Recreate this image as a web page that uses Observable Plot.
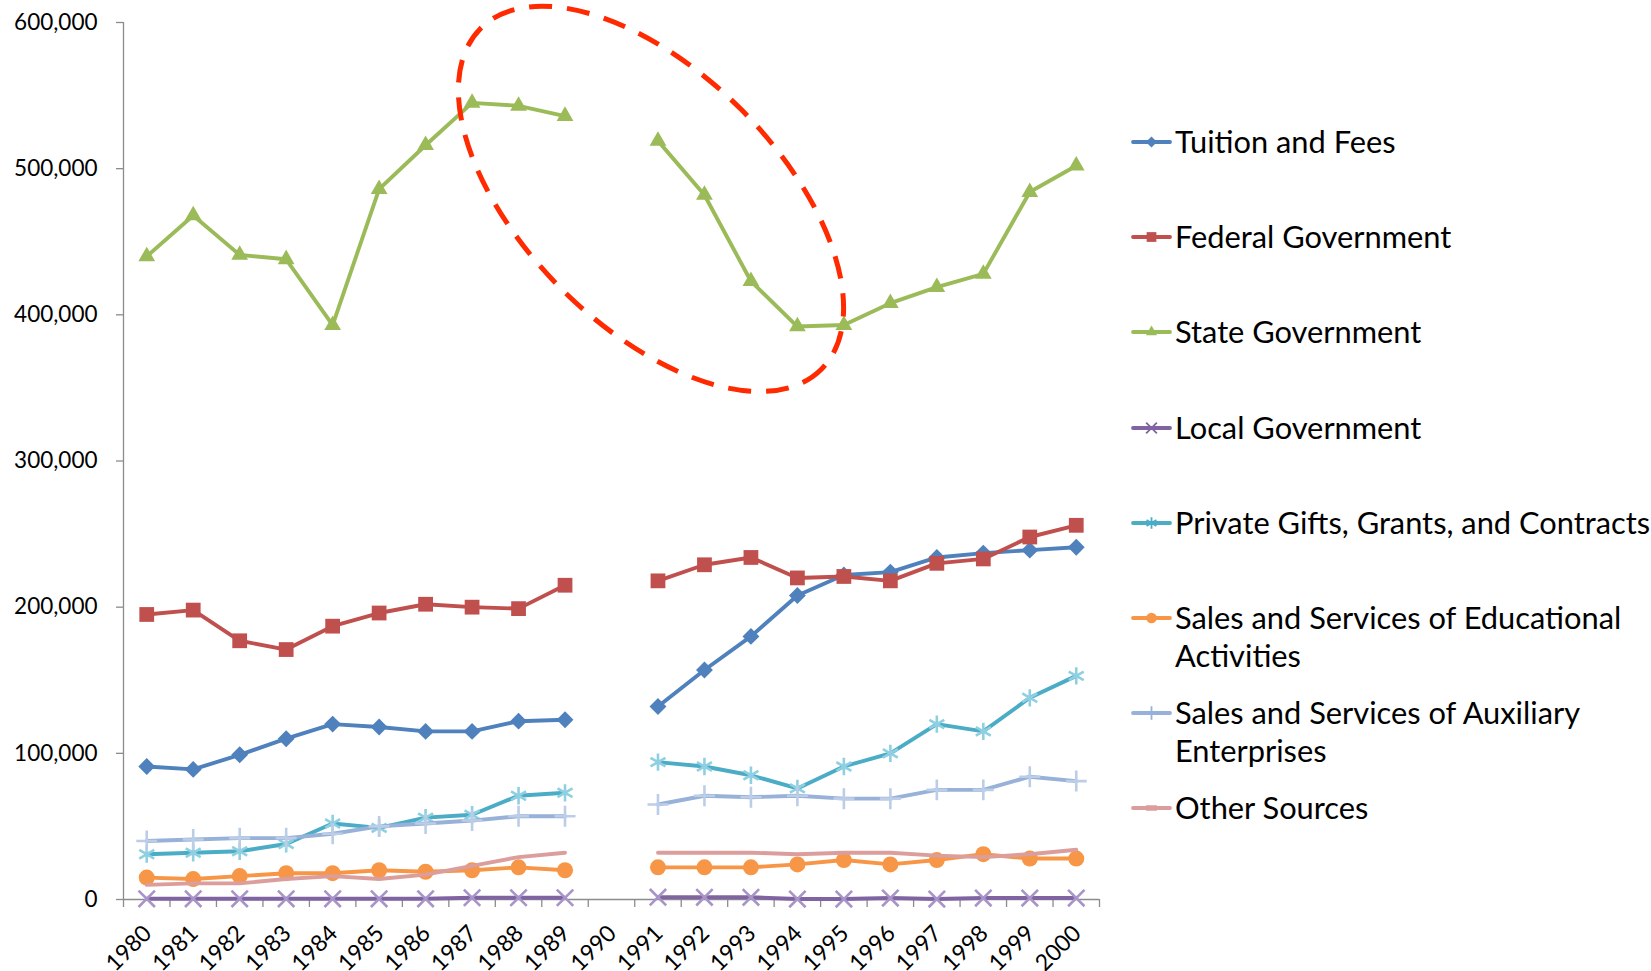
<!DOCTYPE html>
<html>
<head>
<meta charset="utf-8">
<script src="https://cdn.jsdelivr.net/npm/d3@7"></script>
<script src="https://cdn.jsdelivr.net/npm/@observablehq/plot@0.6"></script>
<style>
  html, body { margin: 0; padding: 0; background: #fff; }
  #wrap { position: relative; width: 1651px; height: 971px; font-family: Lato, "Open Sans", sans-serif; }
  .item { position: absolute; left: 1131px; display: flex; align-items: flex-start; }
  .item svg { flex: none; margin-top: 9px; }
  .lbl { font-size: 30.8px; line-height: 38px; color: #000; white-space: nowrap; margin-left: 3px; }
</style>
</head>
<body>
<div id="wrap"></div>
<script>
// ---- data ----
const years = [1980,1981,1982,1983,1984,1985,1986,1987,1988,1989,1990,1991,1992,1993,1994,1995,1996,1997,1998,1999,2000];
const tuitionFees   = [91000, 89000, 99000,110000,120000,118000,115000,115000,122000,123000,null,132000,157000,180000,208000,222000,224000,234000,237000,239000,241000];
const federalGov    = [195000,198000,177000,171000,187000,196000,202000,200000,199000,215000,null,218000,229000,234000,220000,221000,218000,230000,233000,248000,256000];
const stateGov      = [440000,468000,441000,438000,393000,486000,516000,545000,543000,536000,null,519000,482000,423000,392000,393000,408000,419000,428000,484000,502000];
const localGov      = [500,500,500,500,500,500,500,1200,1200,1200,null,1600,1500,1500,300,300,1000,300,1000,1000,1000];
const privateGifts  = [31000,32000,33000,38000,52000,49000,56000,58000,71000,73000,null,94000,91000,85000,76000,91000,100000,120000,115000,138000,153000];
const salesEduc     = [15000,14000,16000,18000,18000,20000,19000,20000,22000,20000,null,22000,22000,22000,24000,27000,24000,27000,31000,28000,28000];
const salesAux      = [40000,41000,42000,42000,45000,50000,52000,54000,57000,57000,null,65000,71000,70000,71000,69000,69000,75000,75000,84000,81000];
const otherSources  = [10000,11000,11000,14000,16000,14000,17000,23000,29000,32000,null,32000,32000,32000,31000,32000,32000,30000,29000,31000,34000];
const seriesNames = [
  ["Tuition and Fees"],
  ["Federal Government"],
  ["State Government"],
  ["Local Government"],
  ["Private Gifts, Grants, and Contracts"],
  ["Sales and Services of Educational", "Activities"],
  ["Sales and Services of Auxiliary", "Enterprises"],
  ["Other Sources"]
];
const yTicks = [0,100000,200000,300000,400000,500000,600000];
// annotation: dashed ellipse around the 1987–1995 State Government values
const highlight = {year: 1990.86, value: 479000};

// ---- styles ----
const styles = [
  {color:"#4F81BD", symbol:"diamond2",  r:7.6, fill:true},
  {color:"#C0504D", symbol:"square2",   r:9.4, fill:true},
  {color:"#9BBB59", symbol:"triangle2", r:8.0, fill:true},
  {color:"#8064A2", symbol:"times",     r:7.5, fill:false, mcolor:"#A894C8"},
  {color:"#4BACC6", symbol:"asterisk",  r:8.2, fill:false, mcolor:"#8ED0E1"},
  {color:"#F79646", symbol:"circle",    r:8.0, fill:true},
  {color:"#97B1D9", symbol:"plus",      r:6.8, fill:false, mcolor:"#BCCDE8"},
  {color:"#DB9E9C", symbol:null,        r:0,   fill:false}
];
const values = [tuitionFees, federalGov, stateGov, localGov, privateGifts, salesEduc, salesAux, otherSources];
const table = values.map((vals, i) => years.map((yr, j) => ({year: yr, value: vals[j], s: i})));

const marks = [];
// axes
marks.push(Plot.ruleX([1979.5], {stroke: "#8c8c8c", strokeWidth: 1.3}));
marks.push(Plot.ruleY([0], {stroke: "#8c8c8c", strokeWidth: 1.3}));
marks.push(Plot.axisY({ticks: yTicks, tickFormat: d3.format(","), tickSize: 7, tickPadding: 19, label: null,
  stroke: "#8c8c8c", fill: "#000", fontSize: 22.5, strokeWidth: 1.3}));
marks.push(Plot.axisX({ticks: d3.range(1979.5, 2001, 1), tickFormat: () => "", tickSize: 8, label: null,
  stroke: "#8c8c8c", strokeWidth: 1.3}));
marks.push(Plot.text(years, {x: d => d, y: () => 0, dy: 30, dx: 1, rotate: -45,
  textAnchor: "end", lineAnchor: "middle", fontSize: 23, fill: "#000", text: d => String(d)}));

table.forEach((rows, i) => {
  const st = styles[i];
  marks.push(Plot.line(rows, {x: "year", y: "value", stroke: st.color, strokeWidth: 3.9,
    strokeLinejoin: "round", strokeLinecap: "round"}));
  if (st.symbol) {
    const defined = rows.filter(d => d.value != null);
    if (st.fill) {
      marks.push(Plot.dot(defined, {x: "year", y: "value", symbol: () => st.symbol, r: st.r,
        fill: st.color, stroke: "none"}));
    } else {
      marks.push(Plot.dot(defined, {x: "year", y: "value", symbol: () => st.symbol, r: st.r,
        fill: "none", stroke: st.mcolor, strokeWidth: 2.6}));
    }
  }
});

const plot = Plot.plot({
  width: 1651, height: 971,
  marginLeft: 123, marginRight: 552, marginTop: 22, marginBottom: 72,
  x: {type: "linear", domain: [1979.5, 2000.5], axis: null},
  y: {domain: [0, 600000], axis: null},
  symbol: {type: "identity"},
  style: {fontFamily: "Lato, 'Open Sans', sans-serif", color: "#000", background: "#fff", overflow: "visible"},
  marks
});
document.getElementById("wrap").appendChild(plot);

// dashed highlight ellipse placed via the plot's scales
const cx = plot.scale("x").apply(highlight.year);
const cy = plot.scale("y").apply(highlight.value);
d3.select(plot).append("ellipse")
  .attr("cx", 0).attr("cy", 0).attr("rx", 241).attr("ry", 127)
  .attr("transform", `translate(${cx},${cy}) rotate(45)`)
  .attr("fill", "none").attr("stroke", "#FF2A00").attr("stroke-width", 5)
  .attr("stroke-dasharray", "23 15");

// legend
const symMap = {diamond2: d3.symbolDiamond2, square2: d3.symbolSquare2, triangle2: d3.symbolTriangle2,
  circle: d3.symbolCircle, times: d3.symbolTimes, asterisk: d3.symbolAsterisk, plus: d3.symbolPlus};
const wrap = d3.select("#wrap");
seriesNames.forEach((lines, i) => {
  const st = styles[i];
  const item = wrap.append("div").attr("class", "item").style("top", `${123 + i * 95.2}px`);
  const svg = item.append("svg").attr("width", 41).attr("height", 20);
  svg.append("line").attr("x1", 2).attr("x2", 39).attr("y1", 10).attr("y2", 10)
    .attr("stroke", st.color).attr("stroke-width", 3.8).attr("stroke-linecap", "round");
  if (st.symbol) {
    const rr = st.r * 0.66;
    svg.append("path").attr("transform", "translate(20.5,10)")
      .attr("d", d3.symbol(symMap[st.symbol], Math.PI * rr * rr)())
      .attr("fill", st.fill ? st.color : "none")
      .attr("stroke", st.fill ? "none" : st.color)
      .attr("stroke-width", 1.8);
  } else {
    svg.append("line").attr("x1", 15).attr("x2", 26).attr("y1", 10).attr("y2", 10)
      .attr("stroke", st.color).attr("stroke-width", 5.5);
  }
  const lbl = item.append("div").attr("class", "lbl");
  lines.forEach((t, k) => { if (k) lbl.append("br"); lbl.append("span").text(t); });
});
</script>
</body>
</html>
